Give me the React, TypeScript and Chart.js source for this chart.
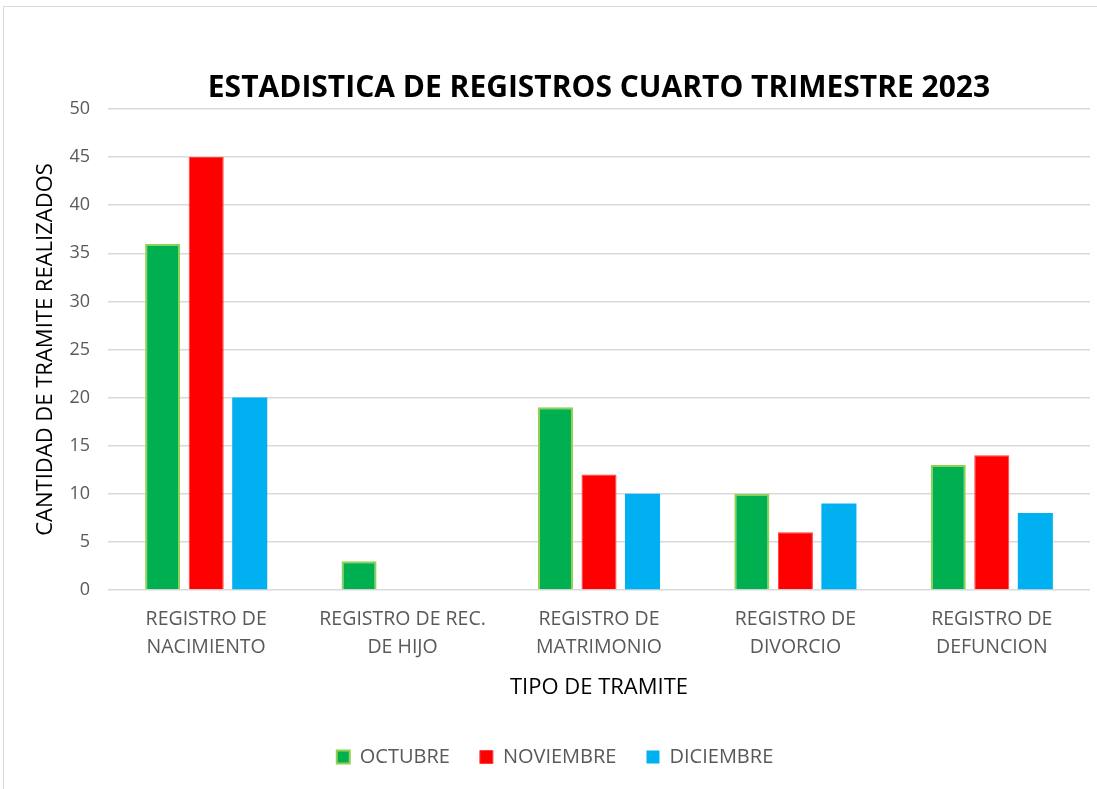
import React, { useEffect, useRef } from "react";
import { Chart, registerables } from "chart.js";

Chart.register(...registerables);

const categories: string[][] = [
  ["REGISTRO DE", "NACIMIENTO"],
  ["REGISTRO DE REC.", "DE HIJO"],
  ["REGISTRO DE", "MATRIMONIO"],
  ["REGISTRO DE", "DIVORCIO"],
  ["REGISTRO DE", "DEFUNCION"],
];
const octubre = [36, 3, 19, 10, 13];
const noviembre = [45, 0, 12, 6, 14];
const diciembre = [20, 0, 10, 9, 8];
const yTicksMax = 50;
const yTickStep = 5;

const FONT = "'Open Sans', sans-serif";

export default function App() {
  const ref = useRef<HTMLCanvasElement | null>(null);
  useEffect(() => {
    if (!ref.current) return;
    const chart = new Chart(ref.current, {
      type: "bar",
      data: {
        labels: categories,
        datasets: [
          {
            label: "OCTUBRE",
            data: octubre,
            backgroundColor: "#00b050",
            borderColor: "#92d050",
            borderWidth: 2,
          },
          {
            label: "NOVIEMBRE",
            data: noviembre,
            backgroundColor: "#ff0000",
            borderColor: "#ff3b3b",
            borderWidth: 1,
          },
          {
            label: "DICIEMBRE",
            data: diciembre,
            backgroundColor: "#00b0f0",
            borderColor: "#00b0f0",
            borderWidth: 0,
          },
        ],
      },
      options: {
        responsive: false,
        animation: false,
        devicePixelRatio: 1,
        layout: { padding: { left: 20, right: 7, top: 0, bottom: 12 } },
        datasets: { bar: { categoryPercentage: 0.665, barPercentage: 0.805 } },
        plugins: {
          title: {
            display: true,
            fullSize: false,
            text: "ESTADISTICA DE REGISTROS CUARTO TRIMESTRE 2023",
            color: "#000000",
            font: { family: FONT, size: 30, weight: "bold", lineHeight: 1.2 },
            padding: { top: 70, bottom: 3 },
          },
          legend: {
            position: "bottom",
            labels: {
              color: "#595959",
              font: { family: FONT, size: 20 },
              boxWidth: 13,
              boxHeight: 13,
              padding: 30,
            },
          },
          tooltip: { enabled: false },
        },
        scales: {
          x: {
            grid: { display: false, drawTicks: false },
            border: { display: false },
            ticks: {
              color: "#595959",
              font: { family: FONT, size: 19.5, lineHeight: 1.4 },
              padding: 16,
              maxRotation: 0,
              autoSkip: false,
            },
            title: {
              display: true,
              text: "TIPO DE TRAMITE",
              color: "#000000",
              font: { family: FONT, size: 22 },
              padding: { top: -2, bottom: 16 },
            },
          },
          y: {
            min: 0,
            max: yTicksMax,
            grid: { color: "#d9d9d9", lineWidth: 1.5, drawTicks: false },
            border: { display: false },
            ticks: {
              stepSize: yTickStep,
              color: "#595959",
              font: { family: FONT, size: 18 },
              padding: 18,
            },
            title: {
              display: true,
              text: "CANTIDAD DE TRAMITE REALIZADOS",
              color: "#000000",
              font: { family: FONT, size: 22 },
              padding: { top: 13, bottom: -8 },
            },
          },
        },
      },
    });
    return () => chart.destroy();
  }, []);
  return (
    <div
      style={{
        position: "absolute",
        left: 0,
        top: 0,
        width: 1097,
        height: 789,
        overflow: "hidden",
        background: "#ffffff",
      }}
    >
      <div
        style={{
          position: "absolute",
          left: 3,
          top: 6,
          width: 1200,
          height: 900,
          border: "1.5px solid #d9d9d9",
        }}
      />
      <canvas
        ref={ref}
        width={1097}
        height={789}
        style={{ position: "absolute", left: 0, top: 0, width: 1097, height: 789 }}
      />
    </div>
  );
}
